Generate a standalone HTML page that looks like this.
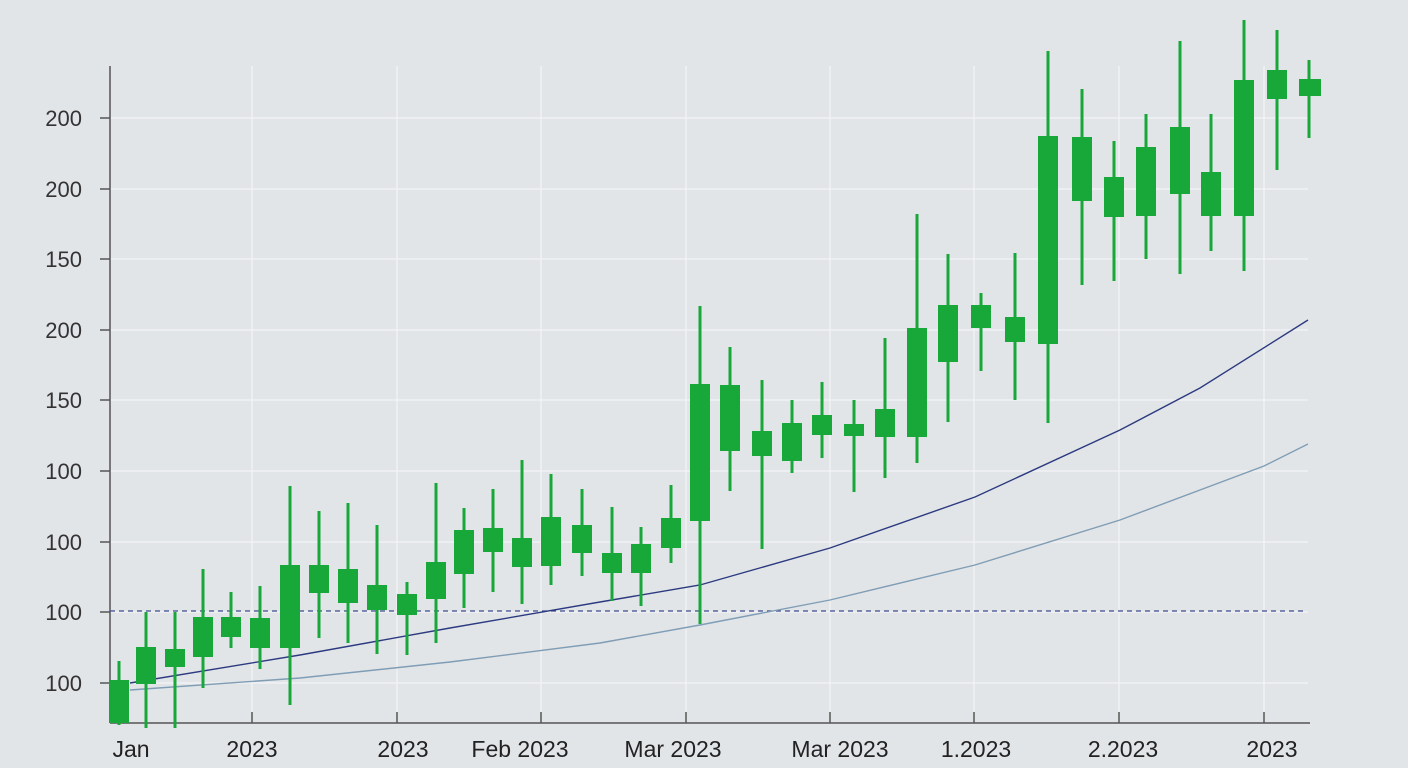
<!DOCTYPE html>
<html><head><meta charset="utf-8"><style>
html,body{margin:0;padding:0;background:#e2e5e8;}
svg{display:block;font-family:"Liberation Sans",sans-serif;}
</style></head><body>
<svg width="1408" height="768" viewBox="0 0 1408 768" xmlns="http://www.w3.org/2000/svg">
<rect width="1408" height="768" fill="#e2e5e8"/>
<g stroke="#f3f4f6" stroke-width="1.2">
<line x1="110" y1="118" x2="1308" y2="118"/><line x1="110" y1="189" x2="1308" y2="189"/>
<line x1="110" y1="259" x2="1308" y2="259"/><line x1="110" y1="330" x2="1308" y2="330"/>
<line x1="110" y1="400" x2="1308" y2="400"/><line x1="110" y1="471" x2="1308" y2="471"/>
<line x1="110" y1="542" x2="1308" y2="542"/><line x1="110" y1="612" x2="1308" y2="612"/>
<line x1="110" y1="683" x2="1308" y2="683"/>
<line x1="252" y1="66" x2="252" y2="723"/><line x1="397" y1="66" x2="397" y2="723"/>
<line x1="541" y1="66" x2="541" y2="723"/><line x1="686" y1="66" x2="686" y2="723"/>
<line x1="830" y1="66" x2="830" y2="723"/><line x1="974" y1="66" x2="974" y2="723"/>
<line x1="1119" y1="66" x2="1119" y2="723"/><line x1="1264" y1="66" x2="1264" y2="723"/>
</g>
<g stroke="#555" stroke-width="1.5">
<line x1="110" y1="66" x2="110" y2="723"/><line x1="110" y1="723" x2="1310" y2="723"/>
<line x1="100" y1="118" x2="110" y2="118"/><line x1="100" y1="189" x2="110" y2="189"/><line x1="100" y1="259" x2="110" y2="259"/><line x1="100" y1="330" x2="110" y2="330"/><line x1="100" y1="400" x2="110" y2="400"/><line x1="100" y1="471" x2="110" y2="471"/><line x1="100" y1="542" x2="110" y2="542"/><line x1="100" y1="612" x2="110" y2="612"/><line x1="100" y1="683" x2="110" y2="683"/>
<line x1="252" y1="712" x2="252" y2="723"/><line x1="397" y1="712" x2="397" y2="723"/><line x1="541" y1="712" x2="541" y2="723"/><line x1="686" y1="712" x2="686" y2="723"/><line x1="830" y1="712" x2="830" y2="723"/><line x1="974" y1="712" x2="974" y2="723"/><line x1="1119" y1="712" x2="1119" y2="723"/><line x1="1264" y1="712" x2="1264" y2="723"/>
</g>
<line x1="110" y1="611" x2="1306" y2="611" stroke="#3a4a8a" stroke-width="1.3" stroke-dasharray="5,4"/>
<polyline fill="none" stroke="#7f9db5" stroke-width="1.4" points="130,690 300,678 450,662 600,643 700,625 830,600 975,565 1120,520 1264,466 1308,444"/>
<polyline fill="none" stroke="#2c3a80" stroke-width="1.4" points="130,683 300,655 450,628 600,602 700,585 830,548 975,497 1120,430 1200,388 1308,320"/>
<g stroke="#18a83a" stroke-width="3">
<line x1="119" x2="119" y1="661" y2="725"/><line x1="146" x2="146" y1="612" y2="728"/><line x1="175" x2="175" y1="612" y2="728"/><line x1="203" x2="203" y1="569" y2="688"/><line x1="231" x2="231" y1="592" y2="648"/><line x1="260" x2="260" y1="586" y2="669"/><line x1="290" x2="290" y1="486" y2="705"/><line x1="319" x2="319" y1="511" y2="638"/><line x1="348" x2="348" y1="503" y2="643"/><line x1="377" x2="377" y1="525" y2="654"/><line x1="407" x2="407" y1="582" y2="655"/><line x1="436" x2="436" y1="483" y2="643"/><line x1="464" x2="464" y1="508" y2="608"/><line x1="493" x2="493" y1="489" y2="592"/><line x1="522" x2="522" y1="460" y2="604"/><line x1="551" x2="551" y1="474" y2="585"/><line x1="582" x2="582" y1="489" y2="576"/><line x1="612" x2="612" y1="507" y2="601"/><line x1="641" x2="641" y1="527" y2="606"/><line x1="671" x2="671" y1="485" y2="563"/><line x1="700" x2="700" y1="306" y2="624"/><line x1="730" x2="730" y1="347" y2="491"/><line x1="762" x2="762" y1="380" y2="549"/><line x1="792" x2="792" y1="400" y2="473"/><line x1="822" x2="822" y1="382" y2="458"/><line x1="854" x2="854" y1="400" y2="492"/><line x1="885" x2="885" y1="338" y2="478"/><line x1="917" x2="917" y1="214" y2="463"/><line x1="948" x2="948" y1="254" y2="422"/><line x1="981" x2="981" y1="293" y2="371"/><line x1="1015" x2="1015" y1="253" y2="400"/><line x1="1048" x2="1048" y1="51" y2="423"/><line x1="1082" x2="1082" y1="89" y2="285"/><line x1="1114" x2="1114" y1="141" y2="281"/><line x1="1146" x2="1146" y1="114" y2="259"/><line x1="1180" x2="1180" y1="41" y2="274"/><line x1="1211" x2="1211" y1="114" y2="251"/><line x1="1244" x2="1244" y1="20" y2="271"/><line x1="1277" x2="1277" y1="30" y2="170"/><line x1="1309" x2="1309" y1="60" y2="138"/>
</g>
<g fill="#18a83a">
<rect x="109" y="680" width="20" height="43"/><rect x="136" y="647" width="20" height="37"/><rect x="165" y="649" width="20" height="18"/><rect x="193" y="617" width="20" height="40"/><rect x="221" y="617" width="20" height="20"/><rect x="250" y="618" width="20" height="30"/><rect x="280" y="565" width="20" height="83"/><rect x="309" y="565" width="20" height="28"/><rect x="338" y="569" width="20" height="34"/><rect x="367" y="585" width="20" height="25"/><rect x="397" y="594" width="20" height="21"/><rect x="426" y="562" width="20" height="37"/><rect x="454" y="530" width="20" height="44"/><rect x="483" y="528" width="20" height="24"/><rect x="512" y="538" width="20" height="29"/><rect x="541" y="517" width="20" height="49"/><rect x="572" y="525" width="20" height="28"/><rect x="602" y="553" width="20" height="20"/><rect x="631" y="544" width="20" height="29"/><rect x="661" y="518" width="20" height="30"/><rect x="690" y="384" width="20" height="137"/><rect x="720" y="385" width="20" height="66"/><rect x="752" y="431" width="20" height="25"/><rect x="782" y="423" width="20" height="38"/><rect x="812" y="415" width="20" height="20"/><rect x="844" y="424" width="20" height="12"/><rect x="875" y="409" width="20" height="28"/><rect x="907" y="328" width="20" height="109"/><rect x="938" y="305" width="20" height="57"/><rect x="971" y="305" width="20" height="23"/><rect x="1005" y="317" width="20" height="25"/><rect x="1038" y="136" width="20" height="208"/><rect x="1072" y="137" width="20" height="64"/><rect x="1104" y="177" width="20" height="40"/><rect x="1136" y="147" width="20" height="69"/><rect x="1170" y="127" width="20" height="67"/><rect x="1201" y="172" width="20" height="44"/><rect x="1234" y="80" width="20" height="136"/><rect x="1267" y="70" width="20" height="29"/><rect x="1299" y="79" width="22" height="17"/>
</g>
<g fill="#333" font-size="22" text-anchor="end">
<text x="82" y="126">200</text><text x="82" y="197">200</text><text x="82" y="267">150</text><text x="82" y="338">200</text><text x="82" y="408">150</text><text x="82" y="479">100</text><text x="82" y="550">100</text><text x="82" y="620">100</text><text x="82" y="691">100</text>
</g>
<g fill="#222" font-size="23" text-anchor="middle">
<text x="131" y="757">Jan</text><text x="252" y="757">2023</text><text x="403" y="757">2023</text><text x="520" y="757">Feb 2023</text><text x="673" y="757">Mar 2023</text><text x="840" y="757">Mar 2023</text><text x="976" y="757">1.2023</text><text x="1123" y="757">2.2023</text><text x="1272" y="757">2023</text>
</g>
</svg>
</body></html>
